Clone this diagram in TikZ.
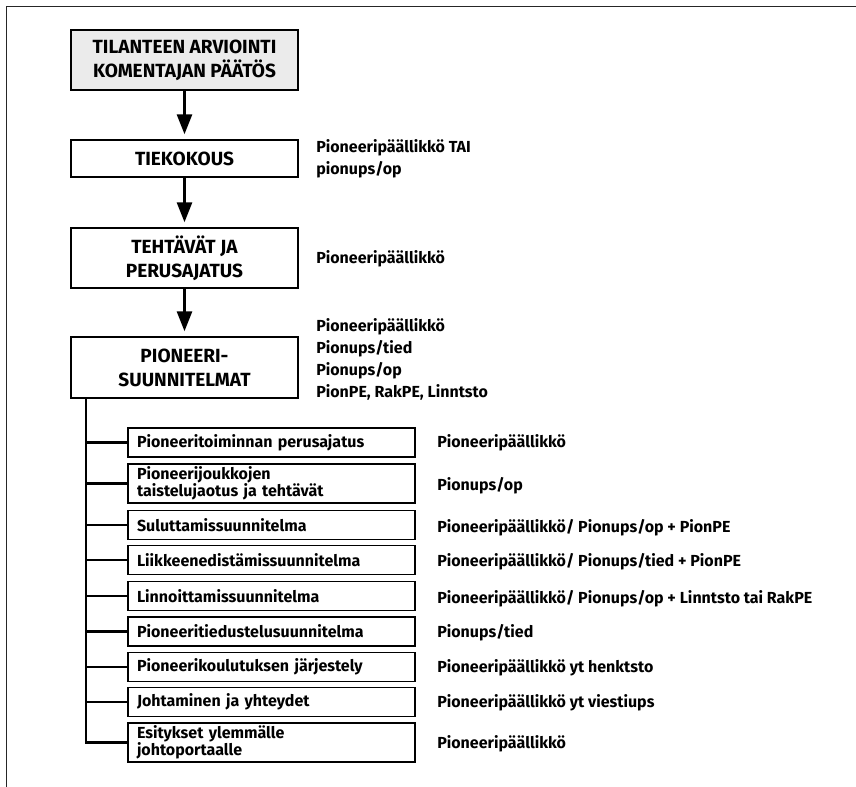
\documentclass[tikz,border=0pt]{standalone}
\usepackage{fontspec}
\setmainfont{Fira Sans}
\usetikzlibrary{positioning,arrows.meta}

\begin{document}
\begin{tikzpicture}[x=0.75pt,y=-0.75pt,
  mainbox/.style={draw,line width=1.1pt,minimum width=170.25pt,align=center,inner sep=0pt,font=\bfseries\fontsize{14.3}{18}\selectfont},
  subbox/.style={draw,line width=1.1pt,text width=201.75pt,inner xsep=6.75pt,inner ysep=0pt,align=left,font=\bfseries\fontsize{12}{12.5}\selectfont},
  who/.style={anchor=west,align=left,inner sep=0pt,font=\bfseries\fontsize{12}{16.5}\selectfont},
  flow/.style={line width=2.2pt,-{Triangle[length=15pt,width=11.25pt]},shorten >=3.75pt},
  tree/.style={line width=2.2pt}]
  \useasboundingbox (0,0) rectangle (856,787);
  \draw[line width=1.1pt,black!85] (6.5,787)--(6.5,6.5)--(856,6.5);
  % main chain
  \node[mainbox,fill=black!8,minimum height=45pt] (arvio) at (184.5,60) {TILANTEEN ARVIOINTI\\KOMENTAJAN PÄÄTÖS};
  \node[mainbox,minimum height=27.75pt] (tiekok) at (184.5,158.5) {TIEKOKOUS};
  \node[mainbox,minimum height=45pt] (tehtav) at (184.5,258) {TEHTÄVÄT JA\\PERUSAJATUS};
  \node[mainbox,minimum height=45.75pt] (suunn) at (184.5,367.5) {PIONEERI-\\SUUNNITELMAT};
  \draw[flow] (arvio)--(tiekok);
  \draw[flow] (tiekok)--(tehtav);
  \draw[flow] (tehtav)--(suunn);
  \node[who] (w1) at (316,159) {Pioneeripäällikkö TAI\\pionups/op};
  \node[who] (w2) at (316,259) {Pioneeripäällikkö};
  \node[who] (w3) at (316,359.5) {Pioneeripäällikkö\\Pionups/tied\\Pionups/op\\PionPE, RakPE, Linntsto};
  % sub plans
  \node[subbox,minimum height=21.75pt] (s1) at (271.5,442.5) {Pioneeritoiminnan perusajatus};
  \node[subbox,minimum height=29.25pt] (s2) at (271.5,483.5) {Pioneerijoukkojen\\taistelujaotus ja tehtävät};
  \node[subbox,minimum height=21.75pt] (s3) at (271.5,525) {Suluttamissuunnitelma};
  \node[subbox,minimum height=21.75pt] (s4) at (271.5,560) {Liikkeenedistämissuunnitelma};
  \node[subbox,minimum height=21.75pt] (s5) at (271.5,596) {Linnoittamissuunnitelma};
  \node[subbox,minimum height=21.75pt] (s6) at (271.5,631.5) {Pioneeritiedustelusuunnitelma};
  \node[subbox,minimum height=21.75pt] (s7) at (271.5,667) {Pioneerikoulutuksen järjestely};
  \node[subbox,minimum height=21.75pt] (s8) at (271.5,702) {Johtaminen ja yhteydet};
  \node[subbox,minimum height=29.25pt] (s9) at (271.5,742.5) {Esitykset ylemmälle\\johtoportaalle};
  \coordinate (stem) at (86,398);
  \draw[tree] (stem) |- (s9.west);
  \foreach \i in {1,...,8}{\draw[tree] (stem |- s\i.west)--(s\i.west);}
  \node[who] (v1) at (437,443) {Pioneeripäällikkö};
  \node[who] (v2) at (437,486) {Pionups/op};
  \node[who] (v3) at (437,528) {Pioneeripäällikkö/ Pionups/op + PionPE};
  \node[who] (v4) at (437,562) {Pioneeripäällikkö/ Pionups/tied + PionPE};
  \node[who] (v5) at (437,599) {Pioneeripäällikkö/ Pionups/op + Linntsto tai RakPE};
  \node[who] (v6) at (437,633) {Pionups/tied};
  \node[who] (v7) at (437,668) {Pioneeripäällikkö yt henktsto};
  \node[who] (v8) at (437,703) {Pioneeripäällikkö yt viestiups};
  \node[who] (v9) at (437,744) {Pioneeripäällikkö};
\end{tikzpicture}
\end{document}
